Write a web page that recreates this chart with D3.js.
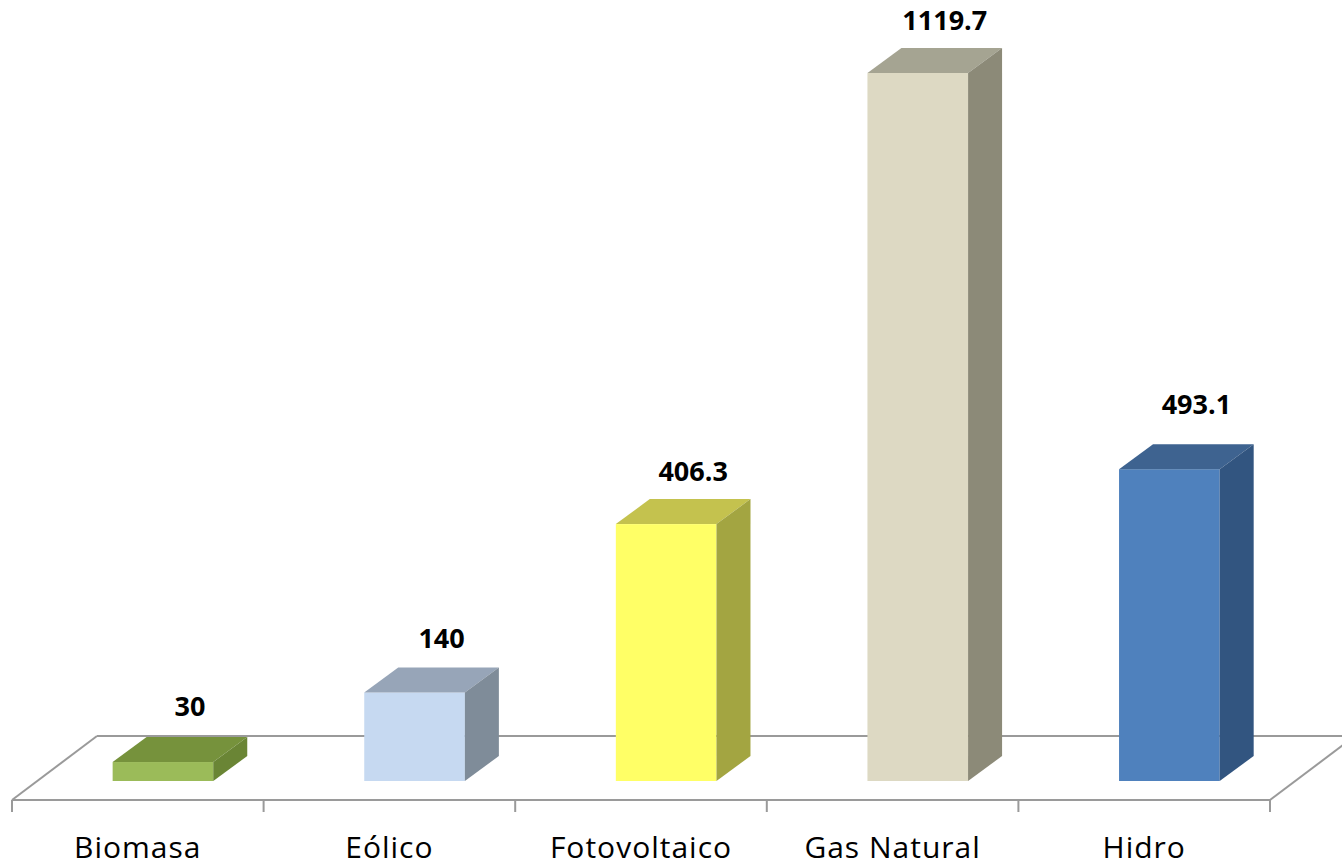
<!DOCTYPE html>
<html>
<head>
<meta charset="utf-8">
<script src="https://cdn.jsdelivr.net/npm/d3@7"></script>
<style>
  html, body { margin: 0; padding: 0; background: #fff; }
  svg { display: block; }
</style>
</head>
<body>
<svg id="chart" width="1342" height="863"></svg>
<script>
// Capacidad por fuente de generación
const categories = ["Biomasa", "Eólico", "Fotovoltaico", "Gas Natural", "Hidro"];
const values = [30, 140, 406.3, 1119.7, 493.1];
const valueLabels = ["30", "140", "406.3", "1119.7", "493.1"];
const frontColors = ["#9BBB59", "#C6D9F1", "#FFFF66", "#DDD9C3", "#4F81BD"];
const topColors   = ["#76923C", "#97A5B8", "#C4C24E", "#A5A492", "#3E6390"];
const sideColors  = ["#6A8535", "#7F8C99", "#A3A541", "#8C8A78", "#325580"];

const W = 1342, H = 863;
const svg = d3.select("#chart");

// 3D projection offsets
const depthX = 34, depthY = -25;       // bar depth
const floorDX = 85, floorDY = -64;     // floor depth
const floorFrontY = 800;
const baseY = 781;
// vertical gap between each bar's back top edge and its value label
const labelLift = [21, 19, 18, 18, 30];

const x = d3.scaleBand().domain(categories).range([12, 1270]).paddingInner(0).paddingOuter(0);
const y = d3.scaleLinear().domain([0, 1200]).range([baseY, baseY - 1200 * 0.6323]);

const gridColor = "#9A9A9A";

// Floor
const floor = svg.append("g").attr("stroke", gridColor).attr("stroke-width", 2).attr("fill", "none");
const x0 = x.range()[0], x1 = x.range()[1];
floor.append("line").attr("x1", x0).attr("y1", floorFrontY).attr("x2", x1).attr("y2", floorFrontY);
floor.append("line").attr("x1", x0).attr("y1", floorFrontY).attr("x2", x0 + floorDX).attr("y2", floorFrontY + floorDY);
floor.append("line").attr("x1", x0 + floorDX).attr("y1", floorFrontY + floorDY).attr("x2", x1 + floorDX).attr("y2", floorFrontY + floorDY);
floor.append("line").attr("x1", x1).attr("y1", floorFrontY).attr("x2", x1 + floorDX).attr("y2", floorFrontY + floorDY);

// Category ticks along the front edge
const tickXs = categories.map(c => x(c)).concat([x1]);
floor.selectAll("line.tick").data(tickXs).join("line")
  .attr("class", "tick")
  .attr("x1", d => d).attr("x2", d => d)
  .attr("y1", floorFrontY).attr("y2", floorFrontY + 12);

// Bars
const bw = x.bandwidth();
const bars = svg.append("g");
categories.forEach((c, i) => {
  const left = x(c) + bw * 0.4;
  const right = left + bw * 0.4;
  const top = y(values[i]);
  const g = bars.append("g");
  // front face
  g.append("rect")
    .attr("x", left).attr("y", top)
    .attr("width", right - left).attr("height", baseY - top)
    .attr("fill", frontColors[i]);
  // top face
  g.append("path")
    .attr("d", `M${left},${top}L${left + depthX},${top + depthY}L${right + depthX},${top + depthY}L${right},${top}Z`)
    .attr("fill", topColors[i]);
  // side face
  g.append("path")
    .attr("d", `M${right},${top}L${right + depthX},${top + depthY}L${right + depthX},${baseY + depthY}L${right},${baseY}Z`)
    .attr("fill", sideColors[i]);
  // value label
  svg.append("text")
    .attr("x", (left + right) / 2 + 27)
    .attr("y", top + depthY - labelLift[i])
    .attr("text-anchor", "middle")
    .attr("font-family", "'Open Sans', sans-serif")
    .attr("font-weight", "bold")
    .attr("font-size", 27)
    .attr("fill", "#000")
    .text(valueLabels[i]);
});

// Category labels
svg.append("g").selectAll("text").data(categories).join("text")
  .attr("x", d => x(d) + bw / 2)
  .attr("y", 858)
  .attr("text-anchor", "middle")
  .attr("font-family", "'Open Sans', sans-serif")
  .attr("font-size", 30)
  .attr("letter-spacing", 1)
  .attr("fill", "#000")
  .text(d => d);
</script>
</body>
</html>
